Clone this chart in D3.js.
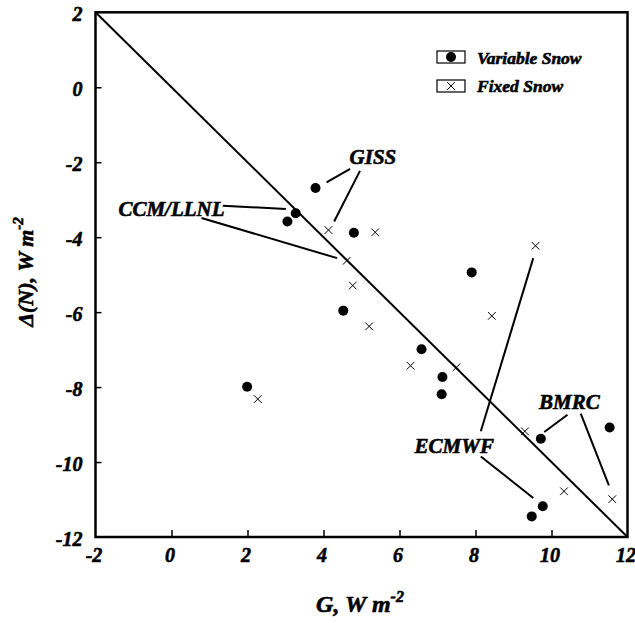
<!DOCTYPE html>
<html>
<head>
<meta charset="utf-8">
<script src="https://cdn.jsdelivr.net/npm/d3@7"></script>
<style>
  body { margin: 0; background: #fff; }
  text { font-family: 'Liberation Serif', 'Times New Roman', serif; font-weight: bold; font-style: italic; fill: #000; stroke: #000; stroke-width: 0.6px; }
</style>
</head>
<body>
<script>
// Variable snow runs (G, delta N)
const variableG = [3.79, 3.27, 3.05, 4.80, 7.90, 4.52, 6.58, 7.13, 7.11, 9.72, 11.53, 9.77, 9.48, 1.99];
const variableN = [-2.69, -3.36, -3.58, -3.88, -4.94, -5.96, -6.99, -7.73, -8.19, -9.38, -9.08, -11.18, -11.45, -7.99];

// Fixed snow runs
const fixedG = [4.13, 5.36, 9.58, 4.61, 4.77, 8.43, 5.20, 6.29, 7.50, 9.30, 10.33, 11.60, 2.27];
const fixedN = [-3.81, -3.87, -4.23, -4.63, -5.29, -6.10, -6.38, -7.43, -7.47, -9.18, -10.78, -10.99, -8.32];

const xTicks = [-2, 0, 2, 4, 6, 8, 10, 12];
const yTicks = [-12, -10, -8, -6, -4, -2, 0, 2];

// model labels and leader lines, in data units
const labels = [
  {name: 'GISS', x: 5.30, y: -2.05, leaders: [[[4.70, -2.18], [4.08, -2.54]], [[4.96, -2.23], [4.28, -3.58]]]},
  {name: 'CCM/LLNL', x: 0.0, y: -3.43, leaders: [[[1.35, -3.16], [3.01, -3.25]], [[0.79, -3.49], [4.36, -4.56]]]},
  {name: 'ECMWF', x: 7.44, y: -9.75, leaders: [[[8.14, -9.18], [9.52, -4.56]], [[8.14, -9.85], [9.52, -10.96]]]},
  {name: 'BMRC', x: 10.47, y: -8.58, leaders: [[[10.42, -8.74], [9.81, -9.20]], [[10.77, -8.71], [11.51, -10.62]]]}
];

const W = 635, H = 623;
const x = d3.scaleLinear().domain([-2, 12]).range([95.5, 627.5]);
const y = d3.scaleLinear().domain([-12, 2]).range([537, 12.3]);

const svg = d3.select('body').append('svg')
  .attr('width', W)
  .attr('height', H);

const fmt = d => String(d);

// axes with inward ticks
const gx = svg.append('g')
  .attr('transform', `translate(0,${y(-12)})`)
  .call(d3.axisBottom(x).tickValues(xTicks).tickSizeInner(-7).tickSizeOuter(0).tickFormat(fmt));
gx.select('.domain').remove();
gx.selectAll('line').attr('stroke', '#000').attr('stroke-width', 1.5);
gx.selectAll('text').attr('y', 25).attr('dy', null).attr('dx', -2).style('font-size', '20px');

const gy = svg.append('g')
  .attr('transform', `translate(${x(-2)},0)`)
  .call(d3.axisLeft(y).tickValues(yTicks).tickSizeInner(-6).tickSizeOuter(0).tickFormat(fmt));
gy.select('.domain').remove();
gy.selectAll('line').attr('stroke', '#000').attr('stroke-width', 1.5);
gy.selectAll('text').attr('x', -13).attr('dy', 8).style('font-size', '20px');
gy.selectAll('.tick').filter(d => d === -12 || d === 2).select('line').remove();
gx.selectAll('.tick').filter(d => d === -2 || d === 12).select('line').remove();

// frame
svg.append('rect')
  .attr('x', x(-2)).attr('y', y(2))
  .attr('width', x(12) - x(-2)).attr('height', y(-12) - y(2))
  .attr('fill', 'none').attr('stroke', '#000').attr('stroke-width', 2.5);

// 1:1 line
svg.append('line')
  .attr('x1', x(-2)).attr('y1', y(2))
  .attr('x2', x(12)).attr('y2', y(-12))
  .attr('stroke', '#000').attr('stroke-width', 2);

// leaders
labels.forEach(l => {
  l.leaders.forEach(seg => {
    svg.append('line')
      .attr('x1', x(seg[0][0])).attr('y1', y(seg[0][1]))
      .attr('x2', x(seg[1][0])).attr('y2', y(seg[1][1]))
      .attr('stroke', '#000').attr('stroke-width', 2);
  });
  svg.append('text')
    .attr('x', x(l.x)).attr('y', y(l.y))
    .attr('text-anchor', 'middle')
    .style('font-size', '21px')
    .text(l.name);
});

// markers
svg.append('g').selectAll('circle')
  .data(d3.range(variableG.length))
  .join('circle')
  .attr('cx', i => x(variableG[i]))
  .attr('cy', i => y(variableN[i]))
  .attr('r', 5)
  .attr('fill', '#000');

const cross = d3.symbol().type(d3.symbolX).size(40);
svg.append('g').selectAll('path')
  .data(d3.range(fixedG.length))
  .join('path')
  .attr('transform', i => `translate(${x(fixedG[i])},${y(fixedN[i])})`)
  .attr('d', cross)
  .attr('fill', 'none')
  .attr('stroke', '#000')
  .attr('stroke-width', 1);

// legend
const legend = svg.append('g').attr('transform', 'translate(437,51)');
legend.append('rect').attr('width', 28).attr('height', 12).attr('fill', 'none').attr('stroke', '#000').attr('stroke-width', 1.2);
legend.append('circle').attr('cx', 14).attr('cy', 6).attr('r', 5).attr('fill', '#000');
legend.append('text').attr('x', 40).attr('y', 12.5).style('font-size', '17.5px').text('Variable Snow');
legend.append('rect').attr('y', 29).attr('width', 28).attr('height', 12).attr('fill', 'none').attr('stroke', '#000').attr('stroke-width', 1.2);
legend.append('path').attr('transform', 'translate(14,35)').attr('d', cross).attr('fill', 'none').attr('stroke', '#000');
legend.append('text').attr('x', 40).attr('y', 41).style('font-size', '17.5px').text('Fixed Snow');

// axis titles
const xt = svg.append('text')
  .attr('x', 360).attr('y', 612)
  .attr('text-anchor', 'middle')
  .style('font-size', '24px');
xt.append('tspan').text('G, W m');
xt.append('tspan').attr('dy', -10).style('font-size', '16px').text('-2');

const yt = svg.append('text')
  .attr('transform', 'translate(33,272) rotate(-90)')
  .attr('text-anchor', 'middle')
  .style('font-size', '22px');
yt.append('tspan').text('\u0394(N), W m');
yt.append('tspan').attr('dy', -10).style('font-size', '15px').text('-2');
</script>
</body>
</html>
